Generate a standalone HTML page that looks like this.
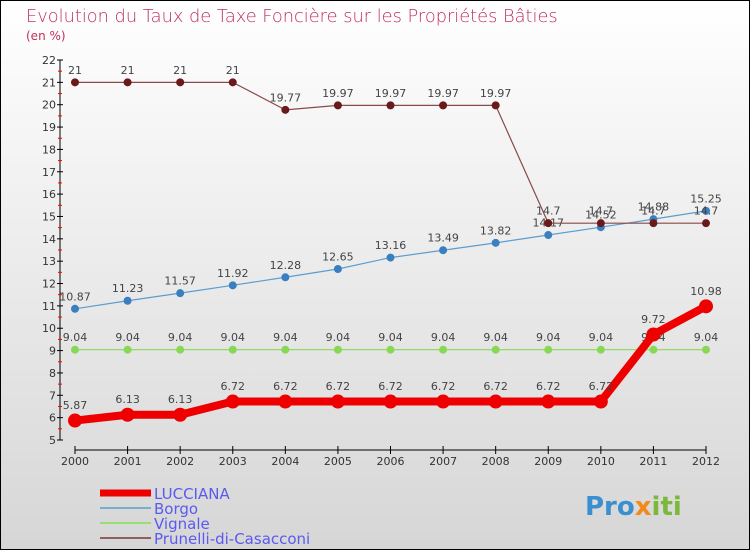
<!DOCTYPE html>
<html><head><meta charset="utf-8"><style>
body{margin:0;}
#c{width:750px;height:550px;position:relative;overflow:hidden;font-family:"DejaVu Sans","Liberation Sans",sans-serif;}
</style></head><body>
<div id="c">
<svg id="s" width="750" height="550" xmlns="http://www.w3.org/2000/svg">
<defs><linearGradient id="bg" x1="0" y1="0" x2="0" y2="1"><stop offset="0" stop-color="#ffffff"/><stop offset="1" stop-color="#d6d6d6"/></linearGradient></defs>
<rect x="0.5" y="0.5" width="749" height="549" fill="url(#bg)" stroke="#000" stroke-width="1"/>
<text x="26" y="22" font-size="17.8" fill="#c0305a" font-weight="300">Evolution du Taux de Taxe Foncière sur les Propriétés Bâties</text>
<text x="26" y="40" font-size="12" fill="#c0305a">(en %)</text>
<g id="axes"></g>
<g id="series"></g>
<g id="legend"></g>
<text x="585" y="515" font-size="26" font-weight="bold"><tspan fill="#3a8fd0">Pro</tspan><tspan fill="#f08a1c">x</tspan><tspan fill="#7cb83a">iti</tspan></text>
</svg>
</div>
<script>
const years = [2000,2001,2002,2003,2004,2005,2006,2007,2008,2009,2010,2011,2012];
const yTicks = [5,6,7,8,9,10,11,12,13,14,15,16,17,18,19,20,21,22];
const lucciana = [5.87,6.13,6.13,6.72,6.72,6.72,6.72,6.72,6.72,6.72,6.72,9.72,10.98];
const borgo = [10.87,11.23,11.57,11.92,12.28,12.65,13.16,13.49,13.82,14.17,14.52,14.88,15.25];
const vignale = [9.04,9.04,9.04,9.04,9.04,9.04,9.04,9.04,9.04,9.04,9.04,9.04,9.04];
const prunelli = [21,21,21,21,19.77,19.97,19.97,19.97,19.97,14.7,14.7,14.7,14.7];
const seriesNames = ["LUCCIANA","Borgo","Vignale","Prunelli-di-Casacconi"];

const NS="http://www.w3.org/2000/svg";
const xS = i => 75 + i*(706-75)/(years.length-1);
const yS = v => 440 - (v-5)*(380/17);
function mk(tag, attrs, parent){const e=document.createElementNS(NS,tag);for(const k in attrs)e.setAttribute(k,attrs[k]);parent.appendChild(e);return e;}
const axes=document.getElementById('axes'), ser=document.getElementById('series'), leg=document.getElementById('legend');

let a=mk('line',{x1:60,y1:yS(22),x2:60,y2:yS(5),stroke:'#000'},axes);


yTicks.forEach(v=>{
  let t=mk('line',{x1:57,x2:63,y1:yS(v),y2:yS(v),stroke:'#000'},axes);
  
  
  if(v<22){let h=mk('line',{x1:58,x2:62,y1:yS(v+0.5),y2:yS(v+0.5),stroke:'#f00'},axes);
  
  }
  let l=mk('text',{x:56,y:yS(v)+4,'font-size':11,'text-anchor':'end',fill:'#333'},axes);
  l.textContent=v;
  
  
});
let xa=mk('line',{x1:75,y1:450,x2:706,y2:450,stroke:'#000'},axes);


years.forEach((y,i)=>{
  let t=mk('line',{x1:xS(i),x2:xS(i),y1:446,y2:454,stroke:'#000'},axes);
  
  
  let l=mk('text',{x:xS(i),y:465,'font-size':11,'text-anchor':'middle',fill:'#333'},axes);
  l.textContent=y;
  
  
});

function drawSeries(vals,name,color,lw,r,dotFill){
  const g=mk('g',{},ser);
  
  
  let p=mk('polyline',{points:vals.map((v,i)=>xS(i)+','+yS(v)).join(' '),fill:'none',stroke:color,'stroke-width':lw,'stroke-linejoin':'round'},g);
  
  
  vals.forEach((v,i)=>{
    let c=mk('circle',{cx:xS(i),cy:yS(v),r:r,fill:dotFill,stroke:dotFill},g);
    
    
    let t=mk('text',{x:xS(i),y:yS(v)-r-5,'font-size':11,'text-anchor':'middle',fill:'#444'},g);
    t.textContent=v;
    
    
  });
}
drawSeries(vignale,'vignale','#88d858',1.2,3.5,'#88d858');
drawSeries(borgo,'borgo','#5a9ed0',1.2,3.5,'#3a7fbf');
drawSeries(prunelli,'prunelli','#8a4a4a',1.2,3.5,'#6a1a1a');
drawSeries(lucciana,'lucciana','#ee0000',8,6.5,'#ee0000');

const lc=[['#ee0000',7],['#7aaed0',2],['#99dd77',2],['#8f5e5e',2]];
seriesNames.forEach((n,i)=>{
  const y=493+i*15;
  let l=mk('line',{x1:100,x2:151,y1:y,y2:y,stroke:lc[i][0],'stroke-width':lc[i][1]},leg);
  
  
  let t=mk('text',{x:154,y:y+6,'font-size':15,fill:'#5a5af0'},leg);
  t.textContent=n;
  
  
});
</script>
</body></html>
